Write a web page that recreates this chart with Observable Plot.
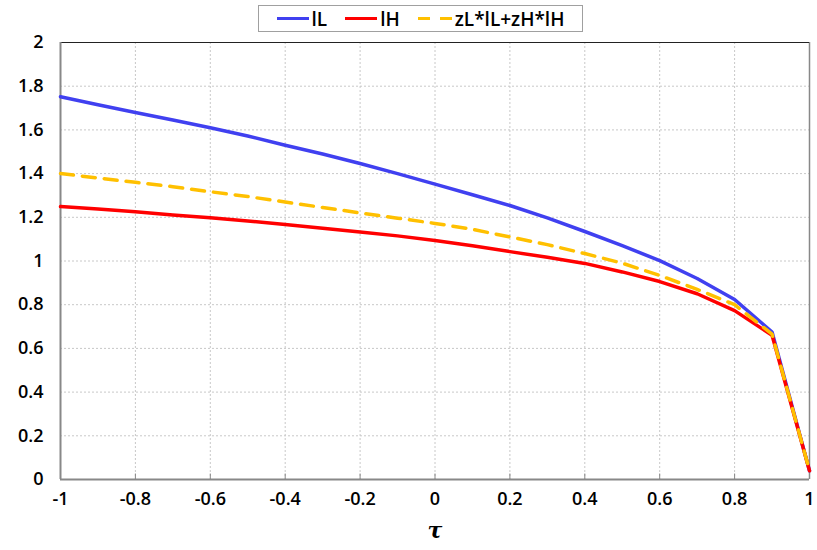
<!DOCTYPE html>
<html>
<head>
<meta charset="utf-8">
<script src="https://cdn.jsdelivr.net/npm/d3@7"></script>
<script src="https://cdn.jsdelivr.net/npm/@observablehq/plot@0.6"></script>
<style>
  body { margin: 0; background: #fff; }
  #wrap { position: relative; width: 817px; height: 550px; font-family: "Open Sans", Lato, sans-serif; }
  #legend { position: absolute; left: 258px; top: 5px; width: 325px; height: 27px; border: 1px solid #a0a0a0; box-sizing: border-box; display: flex; align-items: center; justify-content: center; gap: 18px; font-size: 19px; font-weight: 600; color: #000; background: #fff; }
  .item { display: flex; align-items: center; gap: 3px; }
  .sw { width: 32px; height: 0; border-top: 3px solid; }
  .dash { width: 34px; height: 3px; background: linear-gradient(to right, #ffc000 0 12px, transparent 12px 22px, #ffc000 22px 34px); }
</style>
</head>
<body>
<div id="wrap">
  <div id="chart"></div>
  <div id="legend"></div>
</div>
<script>
const tau = [-1, -0.9, -0.8, -0.7, -0.6, -0.5, -0.4, -0.3, -0.2, -0.1, 0, 0.1, 0.2, 0.3, 0.4, 0.5, 0.6, 0.7, 0.8, 0.9, 1];
const lL  = [1.752, 1.715, 1.68, 1.645, 1.61, 1.572, 1.53, 1.49, 1.446, 1.40, 1.352, 1.303, 1.254, 1.197, 1.135, 1.07, 1.002, 0.92, 0.824, 0.675, 0.04];
const lH  = [1.249, 1.238, 1.225, 1.21, 1.198, 1.183, 1.167, 1.15, 1.133, 1.115, 1.094, 1.07, 1.043, 1.017, 0.989, 0.95, 0.906, 0.85, 0.773, 0.66, 0.04];
const mix = [1.40, 1.38, 1.36, 1.34, 1.317, 1.295, 1.27, 1.245, 1.22, 1.196, 1.172, 1.145, 1.11, 1.075, 1.034, 0.99, 0.934, 0.87, 0.80, 0.665, 0.04];
const seriesNames = ["lL", "lH", "zL*lL+zH*lH"];
const seriesColors = ["#4040f0", "#ff0000", "#ffc000"];
const xTicks = [-1, -0.8, -0.6, -0.4, -0.2, 0, 0.2, 0.4, 0.6, 0.8, 1];
const yTicks = [0, 0.2, 0.4, 0.6, 0.8, 1, 1.2, 1.4, 1.6, 1.8, 2];

const rows = (vals) => tau.map((t, i) => ({t, v: vals[i]}));

const chart = Plot.plot({
  width: 817,
  height: 550,
  marginLeft: 60,
  marginRight: 8,
  marginTop: 42,
  marginBottom: 71,
  style: { fontFamily: "'Open Sans', Lato, sans-serif", fontSize: "18px", fontWeight: 600, color: "#000", background: "#fff" },
  x: { domain: [-1, 1], label: null },
  y: { domain: [0, 2], label: null },
  marks: [
    Plot.ruleX(xTicks, { stroke: "#c8c8c8", strokeOpacity: 1, strokeDasharray: "2,2" }),
    Plot.ruleY(yTicks, { stroke: "#c8c8c8", strokeOpacity: 1, strokeDasharray: "2,2" }),
    Plot.axisX(xTicks, { tickSize: 0, tickPadding: 13, fontSize: 18, fontWeight: 600, tickFormat: d => String(d) }),
    Plot.axisY(yTicks, { tickSize: 0, tickPadding: 17, fontSize: 18, fontWeight: 600, tickFormat: d => String(d) }),
    Plot.ruleX(xTicks, { y1: 0, y2: 0.025, stroke: "#888" }),
    Plot.ruleX([1], { stroke: "#888", strokeWidth: 1.5 }),
    Plot.ruleY([2], { stroke: "#222", strokeWidth: 1 }),
    Plot.ruleY([0], { stroke: "#888", strokeWidth: 2 }),
    Plot.ruleX([-1], { stroke: "#888", strokeWidth: 2 }),
    Plot.line(rows(lL), { x: "t", y: "v", stroke: seriesColors[0], strokeWidth: 3.5 }),
    Plot.line(rows(lH), { x: "t", y: "v", stroke: seriesColors[1], strokeWidth: 3.5 }),
    Plot.line(rows(mix), { x: "t", y: "v", stroke: seriesColors[2], strokeWidth: 3.5, strokeDasharray: "13,9" }),
    Plot.text(["τ"], { frameAnchor: "bottom", dy: 58, fontSize: 22, fontWeight: "bold", fontStyle: "italic", fontFamily: "'DejaVu Serif', serif" })
  ]
});
document.getElementById("chart").appendChild(chart);

const legend = document.getElementById("legend");
seriesNames.forEach((name, i) => {
  const item = document.createElement("div");
  item.className = "item";
  const sw = document.createElement("div");
  if (i === 2) { sw.className = "dash"; }
  else { sw.className = "sw"; sw.style.borderTopColor = seriesColors[i]; }
  const lab = document.createElement("span");
  lab.textContent = name;
  item.appendChild(sw);
  item.appendChild(lab);
  legend.appendChild(item);
});
</script>
</body>
</html>
